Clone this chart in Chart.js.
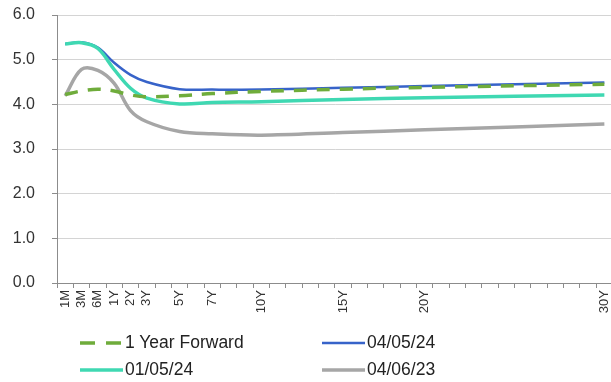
<!DOCTYPE html>
<html>
<head>
<meta charset="utf-8">
<script src="https://cdn.jsdelivr.net/npm/chart.js@4.4.1/dist/chart.umd.min.js"></script>
<style>
    html, body { margin: 0; padding: 0; background: #fff; overflow: hidden; }
    #wrap { position: relative; width: 611px; height: 382px; overflow: hidden; }
    #legend {
        position: absolute; left: 80px; top: 330px;
        display: grid; grid-template-columns: 242px 200px; row-gap: 2px;
        font-family: 'Liberation Sans', Arial, sans-serif; font-size: 17.5px; color: #222;
    }
    .item { display: flex; align-items: center; height: 25px; }
    .item svg { margin-right: 2px; }
</style>
</head>
<body>
<div id="wrap">
    <canvas id="chart" width="622" height="382"></canvas>
    <div id="legend"></div>
</div>
<script>
// Axis slots (one per tick), most left blank
const tickLabels = ['1M', '3M', '6M', '1Y', '2Y', '3Y', '', '5Y', '', '7Y', '', '', '10Y',
    '', '', '', '', '15Y', '', '', '', '', '20Y',
    '', '', '', '', '', '', '', '', '', '', '30Y'];

// Maturities that carry data
const maturities = ['1M', '3M', '6M', '1Y', '2Y', '3Y', '5Y', '7Y', '10Y', '15Y', '20Y', '30Y'];

// Yields (%)
const yearForward = [4.22, 4.30, 4.34, 4.30, 4.21, 4.17, 4.19, 4.24, 4.29, 4.34, 4.38, 4.45];
const yields040524 = [5.35, 5.39, 5.27, 4.93, 4.66, 4.50, 4.34, 4.33, 4.33, 4.37, 4.41, 4.49];
const yields010524 = [5.35, 5.38, 5.25, 4.78, 4.36, 4.14, 4.01, 4.04, 4.06, 4.11, 4.15, 4.21];
const yields040623 = [4.19, 4.78, 4.76, 4.47, 3.86, 3.61, 3.39, 3.34, 3.31, 3.37, 3.43, 3.56];

// Spread a series over the axis slots (null where no maturity)
function toSlots(values) {
    return tickLabels.map(label => {
        const i = maturities.indexOf(label);
        return label && i >= 0 ? values[i] : null;
    });
}

const series = [
    { label: '1 Year Forward', data: yearForward, color: '#6fac3b', width: 3.5, dash: [13, 10], order: 0 },
    { label: '04/05/24', data: yields040524, color: '#3763c9', width: 2.5, dash: [], order: 2 },
    { label: '01/05/24', data: yields010524, color: '#3fd8b2', width: 3.5, dash: [], order: 1 },
    { label: '04/06/23', data: yields040623, color: '#a6a6a6', width: 3.5, dash: [], order: 3 }
];

const FONT = "'Liberation Sans', Arial, sans-serif";

const chart = new Chart(document.getElementById('chart'), {
    type: 'line',
    data: {
        labels: tickLabels,
        datasets: series.map(s => ({
            label: s.label,
            data: toSlots(s.data),
            borderColor: s.color,
            backgroundColor: s.color,
            borderWidth: s.width,
            borderDash: s.dash,
            order: s.order,
            pointRadius: 0,
            tension: 0.35,
            spanGaps: true,
            fill: false
        }))
    },
    options: {
        responsive: false,
        animation: false,
        layout: { padding: { left: 0, right: 2, top: 15, bottom: 69 } },
        plugins: {
            legend: { display: false },
            tooltip: { enabled: false }
        },
        scales: {
            x: {
                offset: true,
                afterFit: scale => { scale.height = 30; },
                grid: { offset: true, drawOnChartArea: false, tickLength: 5, tickColor: '#8c8c8c' },
                border: { color: '#8c8c8c' },
                ticks: {
                    autoSkip: false, minRotation: 90, maxRotation: 90, padding: 2,
                    color: '#333', font: { family: FONT, size: 13 }
                }
            },
            y: {
                min: 0, max: 6,
                afterFit: scale => {
                    // fixed axis width; no extra room above/below the plot
                    scale.width = 57;
                    scale.paddingTop = 0;
                    scale.paddingBottom = 0;
                },
                grid: { color: '#d4d4d4', tickLength: 5, tickColor: '#8c8c8c' },
                border: { color: '#8c8c8c' },
                ticks: {
                    stepSize: 1, padding: 17,
                    color: '#333', font: { family: FONT, size: 16 },
                    callback: v => v.toFixed(1)
                }
            }
        }
    }
});

// Two-column legend under the chart
const legend = document.getElementById('legend');
series.forEach(s => {
    const item = document.createElement('div');
    item.className = 'item';
    item.innerHTML = `<svg width="43" height="8"><line x1="0" y1="4" x2="43" y2="4" stroke="${s.color}"
        stroke-width="${s.width}" stroke-dasharray="${s.dash.length ? '15,11' : 'none'}"/></svg><span>${s.label}</span>`;
    legend.appendChild(item);
});
</script>
</body>
</html>
